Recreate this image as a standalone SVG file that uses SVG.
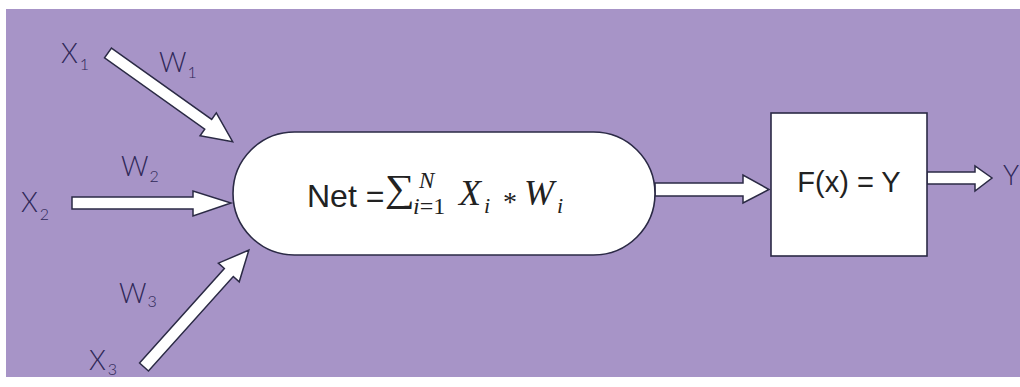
<svg xmlns="http://www.w3.org/2000/svg" width="1020" height="387" viewBox="0 0 1020 387">
<style>
.lbl{font-family:"Lato","Liberation Sans",sans-serif;font-weight:300;font-size:27px;fill:#2f2858}
.sub{font-size:16px}
.arr{fill:#ffffff;stroke:#2b2a45;stroke-width:1.5;stroke-linejoin:miter}
.node{fill:#ffffff;stroke:#2b2a45;stroke-width:1.6}
.m{font-family:"Liberation Serif",serif;fill:#222}
.mi{font-family:"Liberation Serif",serif;font-style:italic;fill:#222}
</style>
<rect x="0" y="0" width="1020" height="387" fill="#ffffff"/>
<rect x="6" y="9" width="1014" height="368" fill="#a794c7"/>

<g id="connectors">
  <polygon class="arr" transform="translate(108,53) rotate(35.45)" points="0,-6 123,-6 123,-14 153,0 123,14 123,6 0,6"/>
  <polygon class="arr" points="72,197 193,197 193,191 231,203 193,216 193,209 72,209"/>
  <polygon class="arr" transform="translate(144,367) rotate(-48.1)" points="0,-6 127,-6 127,-14 157,0 127,14 127,6 0,6"/>
  <polygon class="arr" points="655,183 743,183 743,175 769,189.5 743,203 743,196 655,196"/>
  <polygon class="arr" points="927,172 975,172 975,166 992,178 975,191 975,184 927,184"/>
</g>

<g id="net">
  <rect class="node" x="233" y="132" width="422" height="123" rx="61.5" ry="61.5"/>
  <text x="307" y="207" font-family="Liberation Sans, sans-serif" font-size="32" fill="#222">Net =</text>
  <text transform="translate(385,201) scale(1.1,1)" x="0" y="0" font-family="Liberation Serif, serif" font-size="38" fill="#222">∑</text>
  <text class="mi" x="419" y="188" font-size="23">N</text>
  <text x="413" y="214" font-size="24"><tspan class="mi">i</tspan><tspan class="m">=1</tspan></text>
  <text class="mi" x="459" y="205" font-size="36">X</text>
  <text class="mi" x="484" y="213" font-size="22">i</text>
  <text class="m" x="503" y="211" font-size="28">*</text>
  <text class="mi" x="524" y="205" font-size="36">W</text>
  <text class="mi" x="557" y="213" font-size="22">i</text>
</g>

<g id="activation">
  <rect class="node" x="771" y="113" width="156" height="143"/>
  <text x="849" y="192" text-anchor="middle" font-family="Liberation Sans, sans-serif" font-size="29" fill="#222">F(x) = Y</text>
</g>

<g id="x1"><text class="lbl" x="61" y="63">X<tspan class="sub" dx="2" dy="7">1</tspan></text></g>
<g id="w1"><text class="lbl" x="159" y="72">W<tspan class="sub" dx="1" dy="6">1</tspan></text></g>
<g id="x2"><text class="lbl" x="21" y="212">X<tspan class="sub" dx="2" dy="8">2</tspan></text></g>
<g id="w2"><text class="lbl" x="121" y="176">W<tspan class="sub" dx="1" dy="6">2</tspan></text></g>
<g id="w3"><text class="lbl" x="119" y="303">W<tspan class="sub" dx="1" dy="4">3</tspan></text></g>
<g id="x3"><text class="lbl" x="89" y="370">X<tspan class="sub" dx="2" dy="5">3</tspan></text></g>
<g id="y"><text class="lbl" x="1003" y="185">Y</text></g>
</svg>
